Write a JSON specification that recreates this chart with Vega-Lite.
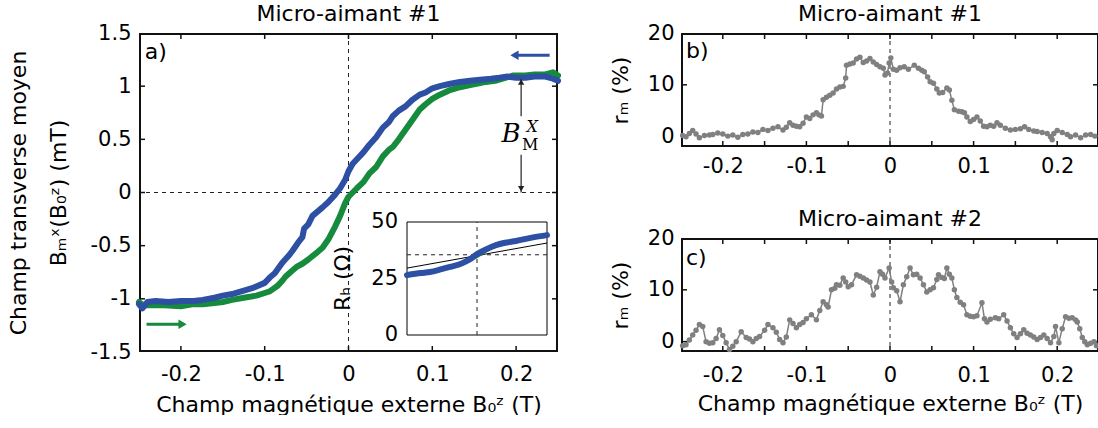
{
  "$schema": "https://vega.github.io/schema/vega-lite/v6.json",
  "background": "white",
  "padding": {"left": 7, "top": 3, "right": 0, "bottom": 0},
  "config": {
    "font": "DejaVu Sans",
    "view": {"stroke": null},
    "tick": {"opacity": 1},
    "axis": {"domain": false, "grid": false, "ticks": false, "labelFont": "DejaVu Sans", "labelFontSize": 21, "titleFont": "DejaVu Sans", "titleFontSize": 22, "titleFontWeight": "normal", "labelColor": "black", "titleColor": "black"},
    "title": {"font": "DejaVu Sans", "fontSize": 22, "fontWeight": "normal", "color": "black", "offset": -4}
  },
  "datasets": {
    "blue": [
      {"b": -0.25, "m": -1.05}, {"b": -0.246, "m": -1.09}, {"b": -0.24, "m": -1.03}, {"b": -0.23, "m": -1.02}, {"b": -0.215, "m": -1.03}, {"b": -0.2, "m": -1.02}, {"b": -0.185, "m": -1.02}, {"b": -0.174, "m": -1.01}, {"b": -0.16, "m": -0.99}, {"b": -0.15, "m": -0.97}, {"b": -0.139, "m": -0.955}, {"b": -0.128, "m": -0.93}, {"b": -0.115, "m": -0.9}, {"b": -0.1, "m": -0.85}, {"b": -0.094, "m": -0.8}, {"b": -0.088, "m": -0.76}, {"b": -0.079, "m": -0.66}, {"b": -0.072, "m": -0.6}, {"b": -0.067, "m": -0.55}, {"b": -0.06, "m": -0.47}, {"b": -0.055, "m": -0.42}, {"b": -0.053, "m": -0.34}, {"b": -0.048, "m": -0.3}, {"b": -0.043, "m": -0.22}, {"b": -0.037, "m": -0.18}, {"b": -0.031, "m": -0.14}, {"b": -0.024, "m": -0.09}, {"b": -0.016, "m": -0.02}, {"b": -0.01, "m": 0.04}, {"b": -0.004, "m": 0.12}, {"b": 0.0, "m": 0.2}, {"b": 0.005, "m": 0.27}, {"b": 0.012, "m": 0.33}, {"b": 0.018, "m": 0.38}, {"b": 0.025, "m": 0.45}, {"b": 0.033, "m": 0.52}, {"b": 0.041, "m": 0.61}, {"b": 0.048, "m": 0.66}, {"b": 0.053, "m": 0.72}, {"b": 0.06, "m": 0.77}, {"b": 0.068, "m": 0.81}, {"b": 0.076, "m": 0.87}, {"b": 0.085, "m": 0.92}, {"b": 0.092, "m": 0.94}, {"b": 0.1, "m": 0.98}, {"b": 0.109, "m": 1.0}, {"b": 0.12, "m": 1.02}, {"b": 0.133, "m": 1.04}, {"b": 0.145, "m": 1.05}, {"b": 0.157, "m": 1.06}, {"b": 0.17, "m": 1.07}, {"b": 0.18, "m": 1.08}, {"b": 0.188, "m": 1.09}, {"b": 0.2, "m": 1.08}, {"b": 0.211, "m": 1.08}, {"b": 0.222, "m": 1.09}, {"b": 0.235, "m": 1.09}, {"b": 0.244, "m": 1.07}, {"b": 0.25, "m": 1.05}
    ],
    "green": [
      {"b": -0.25, "m": -1.03}, {"b": -0.245, "m": -1.06}, {"b": -0.235, "m": -1.06}, {"b": -0.22, "m": -1.06}, {"b": -0.2, "m": -1.07}, {"b": -0.185, "m": -1.05}, {"b": -0.174, "m": -1.05}, {"b": -0.16, "m": -1.04}, {"b": -0.15, "m": -1.03}, {"b": -0.139, "m": -1.01}, {"b": -0.125, "m": -0.99}, {"b": -0.11, "m": -0.97}, {"b": -0.1, "m": -0.945}, {"b": -0.094, "m": -0.93}, {"b": -0.085, "m": -0.88}, {"b": -0.079, "m": -0.83}, {"b": -0.075, "m": -0.79}, {"b": -0.068, "m": -0.74}, {"b": -0.062, "m": -0.7}, {"b": -0.055, "m": -0.67}, {"b": -0.048, "m": -0.63}, {"b": -0.037, "m": -0.56}, {"b": -0.031, "m": -0.52}, {"b": -0.024, "m": -0.44}, {"b": -0.016, "m": -0.32}, {"b": -0.01, "m": -0.22}, {"b": -0.004, "m": -0.1}, {"b": 0.0, "m": -0.04}, {"b": 0.005, "m": 0.0}, {"b": 0.01, "m": 0.04}, {"b": 0.018, "m": 0.1}, {"b": 0.025, "m": 0.18}, {"b": 0.033, "m": 0.24}, {"b": 0.041, "m": 0.34}, {"b": 0.048, "m": 0.4}, {"b": 0.053, "m": 0.43}, {"b": 0.06, "m": 0.5}, {"b": 0.068, "m": 0.59}, {"b": 0.076, "m": 0.68}, {"b": 0.085, "m": 0.78}, {"b": 0.092, "m": 0.83}, {"b": 0.1, "m": 0.88}, {"b": 0.109, "m": 0.92}, {"b": 0.12, "m": 0.96}, {"b": 0.133, "m": 0.99}, {"b": 0.145, "m": 1.01}, {"b": 0.157, "m": 1.03}, {"b": 0.164, "m": 1.04}, {"b": 0.175, "m": 1.05}, {"b": 0.188, "m": 1.08}, {"b": 0.196, "m": 1.1}, {"b": 0.211, "m": 1.1}, {"b": 0.222, "m": 1.11}, {"b": 0.235, "m": 1.11}, {"b": 0.244, "m": 1.13}, {"b": 0.25, "m": 1.1}
    ],
    "insetBlue": [
      {"b": -0.25, "r": 26.5}, {"b": -0.2, "r": 27.4}, {"b": -0.168, "r": 27.9}, {"b": -0.13, "r": 29.0}, {"b": -0.096, "r": 30.1}, {"b": -0.05, "r": 31.9}, {"b": -0.02, "r": 34.0}, {"b": 0.0, "r": 35.8}, {"b": 0.03, "r": 37.8}, {"b": 0.068, "r": 39.8}, {"b": 0.1, "r": 40.8}, {"b": 0.139, "r": 41.6}, {"b": 0.2, "r": 43.2}, {"b": 0.25, "r": 44.2}
    ],
    "insetGreen": [
      {"b": -0.25, "r": 26.3}, {"b": -0.1, "r": 29.6}, {"b": -0.05, "r": 31.3}, {"b": 0.0, "r": 34.4}, {"b": 0.03, "r": 36.8}, {"b": 0.068, "r": 39.3}, {"b": 0.139, "r": 41.4}, {"b": 0.25, "r": 44.0}
    ],
    "insetLine": [
      {"b": -0.25, "r": 29.6}, {"b": 0.25, "r": 40.7}
    ],
    "insetTicks": [
      {"r": 0, "label": "0"}, {"r": 25, "label": "25"}, {"r": 50, "label": "50"}
    ],
    "ticksAx": [{"v": -0.2}, {"v": -0.1}, {"v": 0}, {"v": 0.1}, {"v": 0.2}],
    "ticksAy": [{"v": -1}, {"v": -0.5}, {"v": 0}, {"v": 0.5}, {"v": 1}],
    "ticksRx": [{"v": -0.2}, {"v": -0.15}, {"v": -0.1}, {"v": -0.05}, {"v": 0}, {"v": 0.05}, {"v": 0.1}, {"v": 0.15}, {"v": 0.2}],
    "ticksRy": [{"v": 0}, {"v": 10}],
    "rb": [
      {"b": -0.248, "r": 0.2}, {"b": -0.244, "r": 0.0}, {"b": -0.24, "r": 0.6}, {"b": -0.236, "r": 1.2}, {"b": -0.232, "r": 0.5}, {"b": -0.228, "r": -0.2}, {"b": -0.222, "r": 0.2}, {"b": -0.216, "r": 0.3}, {"b": -0.212, "r": 0.4}, {"b": -0.206, "r": 0.7}, {"b": -0.2, "r": 0.5}, {"b": -0.194, "r": 0.1}, {"b": -0.188, "r": 0.3}, {"b": -0.182, "r": -0.1}, {"b": -0.176, "r": 0.4}, {"b": -0.17, "r": 0.5}, {"b": -0.164, "r": 0.9}, {"b": -0.158, "r": 0.8}, {"b": -0.152, "r": 1.4}, {"b": -0.146, "r": 1.2}, {"b": -0.14, "r": 1.6}, {"b": -0.134, "r": 1.9}, {"b": -0.128, "r": 1.3}, {"b": -0.124, "r": 1.8}, {"b": -0.12, "r": 2.7}, {"b": -0.116, "r": 2.2}, {"b": -0.112, "r": 2.0}, {"b": -0.108, "r": 1.9}, {"b": -0.104, "r": 2.6}, {"b": -0.1, "r": 3.8}, {"b": -0.096, "r": 3.5}, {"b": -0.092, "r": 4.2}, {"b": -0.088, "r": 4.6}, {"b": -0.085, "r": 4.2}, {"b": -0.082, "r": 4.0}, {"b": -0.08, "r": 7.1}, {"b": -0.076, "r": 7.6}, {"b": -0.072, "r": 8.0}, {"b": -0.068, "r": 8.4}, {"b": -0.064, "r": 9.2}, {"b": -0.06, "r": 9.6}, {"b": -0.056, "r": 9.7}, {"b": -0.053, "r": 11.3}, {"b": -0.052, "r": 13.8}, {"b": -0.048, "r": 14.0}, {"b": -0.044, "r": 14.2}, {"b": -0.04, "r": 15.0}, {"b": -0.036, "r": 15.3}, {"b": -0.032, "r": 14.3}, {"b": -0.028, "r": 14.6}, {"b": -0.024, "r": 15.1}, {"b": -0.02, "r": 14.4}, {"b": -0.016, "r": 13.9}, {"b": -0.012, "r": 13.5}, {"b": -0.008, "r": 13.2}, {"b": -0.006, "r": 11.9}, {"b": -0.003, "r": 12.3}, {"b": -0.001, "r": 14.2}, {"b": 0.001, "r": 15.2}, {"b": 0.004, "r": 13.0}, {"b": 0.008, "r": 12.8}, {"b": 0.012, "r": 13.3}, {"b": 0.017, "r": 13.5}, {"b": 0.022, "r": 13.0}, {"b": 0.029, "r": 13.8}, {"b": 0.034, "r": 13.2}, {"b": 0.038, "r": 12.8}, {"b": 0.041, "r": 12.5}, {"b": 0.045, "r": 11.5}, {"b": 0.048, "r": 10.6}, {"b": 0.052, "r": 10.3}, {"b": 0.056, "r": 9.2}, {"b": 0.059, "r": 8.4}, {"b": 0.063, "r": 8.5}, {"b": 0.068, "r": 9.4}, {"b": 0.071, "r": 9.0}, {"b": 0.074, "r": 7.0}, {"b": 0.077, "r": 5.2}, {"b": 0.082, "r": 4.9}, {"b": 0.086, "r": 4.8}, {"b": 0.089, "r": 4.6}, {"b": 0.092, "r": 3.8}, {"b": 0.096, "r": 2.9}, {"b": 0.1, "r": 3.3}, {"b": 0.104, "r": 3.8}, {"b": 0.108, "r": 3.0}, {"b": 0.112, "r": 2.0}, {"b": 0.116, "r": 1.9}, {"b": 0.12, "r": 2.2}, {"b": 0.124, "r": 2.0}, {"b": 0.128, "r": 2.7}, {"b": 0.132, "r": 2.2}, {"b": 0.138, "r": 1.6}, {"b": 0.144, "r": 1.3}, {"b": 0.15, "r": 1.4}, {"b": 0.156, "r": 1.5}, {"b": 0.161, "r": 1.9}, {"b": 0.166, "r": 1.4}, {"b": 0.172, "r": 1.1}, {"b": 0.176, "r": 1.0}, {"b": 0.182, "r": 0.8}, {"b": 0.188, "r": 0.6}, {"b": 0.192, "r": 0.0}, {"b": 0.194, "r": -0.6}, {"b": 0.196, "r": 0.6}, {"b": 0.2, "r": 1.2}, {"b": 0.206, "r": 0.8}, {"b": 0.212, "r": 0.4}, {"b": 0.216, "r": 0.0}, {"b": 0.222, "r": 0.3}, {"b": 0.228, "r": -0.2}, {"b": 0.234, "r": 0.3}, {"b": 0.24, "r": 0.4}, {"b": 0.245, "r": 0.1}
    ],
    "rc": [
      {"b": -0.248, "r": -0.8}, {"b": -0.244, "r": -0.6}, {"b": -0.24, "r": 0.3}, {"b": -0.236, "r": 1.3}, {"b": -0.232, "r": 2.2}, {"b": -0.228, "r": 3.3}, {"b": -0.224, "r": 2.9}, {"b": -0.22, "r": 0.0}, {"b": -0.216, "r": -0.3}, {"b": -0.212, "r": -0.2}, {"b": -0.208, "r": 0.6}, {"b": -0.204, "r": 2.3}, {"b": -0.2, "r": 1.2}, {"b": -0.196, "r": -0.2}, {"b": -0.192, "r": -1.5}, {"b": -0.188, "r": -0.9}, {"b": -0.184, "r": 0.0}, {"b": -0.178, "r": 1.9}, {"b": -0.172, "r": 0.8}, {"b": -0.168, "r": 0.5}, {"b": -0.164, "r": 0.0}, {"b": -0.16, "r": 0.6}, {"b": -0.156, "r": 1.0}, {"b": -0.15, "r": 2.2}, {"b": -0.146, "r": 3.3}, {"b": -0.14, "r": 2.7}, {"b": -0.136, "r": 1.8}, {"b": -0.132, "r": 0.4}, {"b": -0.128, "r": -0.2}, {"b": -0.124, "r": 0.9}, {"b": -0.12, "r": 4.2}, {"b": -0.116, "r": 3.5}, {"b": -0.112, "r": 2.7}, {"b": -0.108, "r": 3.3}, {"b": -0.104, "r": 3.7}, {"b": -0.1, "r": 4.4}, {"b": -0.094, "r": 5.2}, {"b": -0.088, "r": 4.2}, {"b": -0.084, "r": 6.0}, {"b": -0.08, "r": 7.7}, {"b": -0.076, "r": 7.1}, {"b": -0.074, "r": 6.7}, {"b": -0.07, "r": 10.0}, {"b": -0.066, "r": 10.3}, {"b": -0.064, "r": 11.0}, {"b": -0.06, "r": 10.9}, {"b": -0.056, "r": 12.3}, {"b": -0.053, "r": 11.5}, {"b": -0.05, "r": 10.6}, {"b": -0.046, "r": 11.0}, {"b": -0.04, "r": 12.9}, {"b": -0.036, "r": 12.6}, {"b": -0.032, "r": 12.3}, {"b": -0.028, "r": 11.9}, {"b": -0.024, "r": 11.5}, {"b": -0.02, "r": 9.0}, {"b": -0.016, "r": 10.5}, {"b": -0.012, "r": 13.5}, {"b": -0.009, "r": 13.0}, {"b": -0.006, "r": 12.3}, {"b": -0.001, "r": 14.2}, {"b": 0.002, "r": 11.5}, {"b": 0.004, "r": 10.4}, {"b": 0.008, "r": 9.8}, {"b": 0.012, "r": 7.7}, {"b": 0.016, "r": 11.0}, {"b": 0.02, "r": 12.5}, {"b": 0.024, "r": 14.2}, {"b": 0.028, "r": 12.9}, {"b": 0.032, "r": 13.0}, {"b": 0.036, "r": 12.3}, {"b": 0.04, "r": 11.0}, {"b": 0.044, "r": 9.6}, {"b": 0.048, "r": 10.0}, {"b": 0.052, "r": 10.4}, {"b": 0.056, "r": 12.0}, {"b": 0.058, "r": 12.9}, {"b": 0.062, "r": 12.4}, {"b": 0.065, "r": 12.2}, {"b": 0.068, "r": 14.2}, {"b": 0.071, "r": 13.0}, {"b": 0.074, "r": 12.3}, {"b": 0.077, "r": 10.0}, {"b": 0.08, "r": 8.5}, {"b": 0.084, "r": 7.6}, {"b": 0.088, "r": 7.1}, {"b": 0.092, "r": 5.2}, {"b": 0.096, "r": 4.9}, {"b": 0.1, "r": 4.8}, {"b": 0.104, "r": 5.0}, {"b": 0.11, "r": 7.5}, {"b": 0.113, "r": 4.4}, {"b": 0.116, "r": 3.8}, {"b": 0.12, "r": 4.3}, {"b": 0.126, "r": 4.6}, {"b": 0.13, "r": 4.4}, {"b": 0.136, "r": 5.2}, {"b": 0.14, "r": 4.0}, {"b": 0.144, "r": 2.7}, {"b": 0.148, "r": 1.5}, {"b": 0.152, "r": 0.8}, {"b": 0.156, "r": 1.5}, {"b": 0.16, "r": 2.3}, {"b": 0.164, "r": 1.6}, {"b": 0.168, "r": 1.3}, {"b": 0.172, "r": 0.9}, {"b": 0.176, "r": 0.4}, {"b": 0.18, "r": 0.8}, {"b": 0.184, "r": 1.3}, {"b": 0.188, "r": 0.6}, {"b": 0.192, "r": -0.2}, {"b": 0.196, "r": 1.0}, {"b": 0.198, "r": 2.9}, {"b": 0.202, "r": -0.2}, {"b": 0.206, "r": 2.5}, {"b": 0.21, "r": 4.8}, {"b": 0.214, "r": 4.5}, {"b": 0.218, "r": 4.6}, {"b": 0.222, "r": 4.2}, {"b": 0.224, "r": 3.8}, {"b": 0.227, "r": 2.5}, {"b": 0.23, "r": 0.8}, {"b": 0.233, "r": 0.0}, {"b": 0.236, "r": -0.6}, {"b": 0.24, "r": -0.3}, {"b": 0.244, "r": 0.0}, {"b": 0.247, "r": -0.8}
    ],
    "one": [{}]
  },
  "bounds": "flush",
  "spacing": 123,
  "hconcat": [
    {
      "width": 419,
      "height": 319,
      "title": {"text": "Micro-aimant #1"},
      "layer": [
        {
          "layer": [
            {"data": {"name": "one"}, "mark": {"type": "rule", "strokeDash": [4, 4], "color": "#222"}, "encoding": {"x": {"datum": 0, "type": "quantitative", "scale": {"domain": [-0.25, 0.25], "nice": false, "zero": false}, "axis": null}}},
            {"data": {"name": "one"}, "mark": {"type": "rule", "strokeDash": [4, 4], "color": "#222"}, "encoding": {"y": {"datum": 0, "type": "quantitative", "scale": {"domain": [-1.5, 1.5], "nice": false, "zero": false}, "axis": null}}},
            {"data": {"name": "one"}, "mark": {"type": "rule", "color": "#111", "strokeWidth": 2}, "encoding": {"x": {"datum": -0.2488, "type": "quantitative", "axis": null}}},
            {"data": {"name": "one"}, "mark": {"type": "rule", "color": "#111", "strokeWidth": 2}, "encoding": {"x": {"datum": 0.2488, "type": "quantitative", "axis": null}}},
            {"data": {"name": "one"}, "mark": {"type": "rule", "color": "#111", "strokeWidth": 2}, "encoding": {"y": {"datum": -1.4906, "type": "quantitative", "axis": null}}},
            {"data": {"name": "one"}, "mark": {"type": "rule", "color": "#111", "strokeWidth": 2}, "encoding": {"y": {"datum": 1.4906, "type": "quantitative", "axis": null}}},
            {"data": {"name": "ticksAx"}, "mark": {"type": "tick", "orient": "vertical", "size": 6, "thickness": 1.5, "color": "#111"}, "encoding": {"x": {"field": "v", "type": "quantitative", "axis": null}, "y": {"datum": -1.4718, "type": "quantitative", "axis": null}}},
            {"data": {"name": "ticksAx"}, "mark": {"type": "tick", "orient": "vertical", "size": 6, "thickness": 1.5, "color": "#111"}, "encoding": {"x": {"field": "v", "type": "quantitative", "axis": null}, "y": {"datum": 1.4718, "type": "quantitative", "axis": null}}},
            {"data": {"name": "ticksAy"}, "mark": {"type": "tick", "orient": "horizontal", "size": 6, "thickness": 1.5, "color": "#111"}, "encoding": {"y": {"field": "v", "type": "quantitative", "axis": null}, "x": {"datum": -0.2464, "type": "quantitative", "axis": null}}},
            {"data": {"name": "ticksAy"}, "mark": {"type": "tick", "orient": "horizontal", "size": 6, "thickness": 1.5, "color": "#111"}, "encoding": {"y": {"field": "v", "type": "quantitative", "axis": null}, "x": {"datum": 0.2464, "type": "quantitative", "axis": null}}},
            {
              "data": {"name": "green"},
              "mark": {"type": "line", "color": "#168a3d", "strokeWidth": 6, "strokeCap": "round", "strokeJoin": "round"},
              "encoding": {
                "x": {"field": "b", "type": "quantitative", "axis": {"orient": "bottom", "values": [-0.2, -0.1, 0, 0.1, 0.2], "labelExpr": "'' + datum.value", "labelPadding": 11, "title": "Champ magnétique externe B₀ᶻ (T)", "titlePadding": 10}},
                "y": {"field": "m", "type": "quantitative", "axis": {"orient": "left", "values": [-1.5, -1, -0.5, 0, 0.5, 1, 1.5], "labelExpr": "'' + datum.value", "labelPadding": 8, "title": ["Champ transverse moyen", "Bₘˣ(B₀ᶻ) (mT)"], "titleLineHeight": 40, "titlePadding": 20}}
              }
            },
            {
              "data": {"name": "blue"},
              "mark": {"type": "line", "color": "#2d50a4", "strokeWidth": 6, "strokeCap": "round", "strokeJoin": "round"},
              "encoding": {
                "x": {"field": "b", "type": "quantitative", "axis": null},
                "y": {"field": "m", "type": "quantitative", "axis": null}
              }
            },
            {"data": {"name": "one"}, "mark": {"type": "rule", "color": "#333", "strokeWidth": 1.3}, "encoding": {"x": {"datum": 0.206, "type": "quantitative", "axis": null}, "y": {"datum": 0.717, "type": "quantitative", "axis": null}, "y2": {"datum": 1.07}}},
            {"data": {"name": "one"}, "mark": {"type": "rule", "color": "#333", "strokeWidth": 1.3}, "encoding": {"x": {"datum": 0.206, "type": "quantitative", "axis": null}, "y": {"datum": 0.0, "type": "quantitative", "axis": null}, "y2": {"datum": 0.356}}},
            {"data": {"name": "one"}, "mark": {"type": "point", "shape": "triangle-up", "filled": true, "color": "#222", "size": 40, "opacity": 1}, "encoding": {"x": {"datum": 0.206, "type": "quantitative", "axis": null}, "y": {"datum": 1.04, "type": "quantitative", "axis": null}}},
            {"data": {"name": "one"}, "mark": {"type": "point", "shape": "triangle-down", "filled": true, "color": "#222", "size": 40, "opacity": 1}, "encoding": {"x": {"datum": 0.206, "type": "quantitative", "axis": null}, "y": {"datum": 0.035, "type": "quantitative", "axis": null}}},
            {"data": {"name": "one"}, "mark": {"type": "text", "font": "DejaVu Serif", "fontStyle": "italic", "fontSize": 26, "align": "center", "baseline": "middle", "dx": -10}, "encoding": {"x": {"datum": 0.206, "type": "quantitative", "axis": null}, "y": {"datum": 0.546, "type": "quantitative", "axis": null}, "text": {"value": "B"}}},
            {"data": {"name": "one"}, "mark": {"type": "text", "font": "DejaVu Serif", "fontStyle": "italic", "fontSize": 16, "align": "center", "baseline": "middle", "dx": 11, "dy": -7}, "encoding": {"x": {"datum": 0.206, "type": "quantitative", "axis": null}, "y": {"datum": 0.546, "type": "quantitative", "axis": null}, "text": {"value": "X"}}},
            {"data": {"name": "one"}, "mark": {"type": "text", "font": "DejaVu Serif", "fontSize": 16, "align": "center", "baseline": "middle", "dx": 9, "dy": 11}, "encoding": {"x": {"datum": 0.206, "type": "quantitative", "axis": null}, "y": {"datum": 0.546, "type": "quantitative", "axis": null}, "text": {"value": "M"}}},
            {"data": {"name": "one"}, "mark": {"type": "rule", "color": "#2d50a4", "strokeWidth": 3}, "encoding": {"x": {"datum": 0.2, "type": "quantitative", "axis": null}, "x2": {"datum": 0.24}, "y": {"datum": 1.29, "type": "quantitative", "axis": null}}},
            {"data": {"name": "one"}, "mark": {"type": "point", "shape": "triangle-left", "filled": true, "color": "#2d50a4", "size": 90, "opacity": 1}, "encoding": {"x": {"datum": 0.198, "type": "quantitative", "axis": null}, "y": {"datum": 1.29, "type": "quantitative", "axis": null}}},
            {"data": {"name": "one"}, "mark": {"type": "rule", "color": "#168a3d", "strokeWidth": 3}, "encoding": {"x": {"datum": -0.241, "type": "quantitative", "axis": null}, "x2": {"datum": -0.2}, "y": {"datum": -1.24, "type": "quantitative", "axis": null}}},
            {"data": {"name": "one"}, "mark": {"type": "point", "shape": "triangle-right", "filled": true, "color": "#168a3d", "size": 90, "opacity": 1}, "encoding": {"x": {"datum": -0.198, "type": "quantitative", "axis": null}, "y": {"datum": -1.24, "type": "quantitative", "axis": null}}},
            {"data": {"name": "one"}, "mark": {"type": "text", "fontSize": 22, "align": "left", "baseline": "middle"}, "encoding": {"x": {"datum": -0.243, "type": "quantitative", "axis": null}, "y": {"datum": 1.325, "type": "quantitative", "axis": null}, "text": {"value": "a)"}}}
          ],
          "resolve": {"axis": {"x": "independent", "y": "independent"}}
        },
        {
          "layer": [
            {"data": {"name": "one"}, "mark": {"type": "rect", "fill": "white", "stroke": "black", "strokeWidth": 1}, "encoding": {"x": {"datum": -0.25, "type": "quantitative", "scale": {"domain": [-0.25, 0.25], "range": [268, 408], "nice": false, "zero": false}, "axis": null}, "x2": {"datum": 0.25}, "y": {"datum": 0, "type": "quantitative", "scale": {"domain": [0, 50], "range": [302, 189], "nice": false, "zero": false}, "axis": null}, "y2": {"datum": 50}}},
            {"data": {"name": "one"}, "mark": {"type": "rule", "strokeDash": [4, 4], "color": "#222"}, "encoding": {"x": {"datum": 0, "type": "quantitative", "axis": null}, "y": {"datum": 0, "type": "quantitative", "axis": null}, "y2": {"datum": 50}}},
            {"data": {"name": "one"}, "mark": {"type": "rule", "strokeDash": [4, 4], "color": "#222"}, "encoding": {"x": {"datum": -0.25, "type": "quantitative", "axis": null}, "x2": {"datum": 0.25}, "y": {"datum": 35.5, "type": "quantitative", "axis": null}}},
            {"data": {"name": "insetLine"}, "mark": {"type": "line", "color": "black", "strokeWidth": 1}, "encoding": {"x": {"field": "b", "type": "quantitative", "axis": null}, "y": {"field": "r", "type": "quantitative", "axis": null}}},
            {"data": {"name": "insetGreen"}, "mark": {"type": "line", "color": "#168a3d", "strokeWidth": 2, "interpolate": "monotone"}, "encoding": {"x": {"field": "b", "type": "quantitative", "axis": null}, "y": {"field": "r", "type": "quantitative", "axis": null}}},
            {"data": {"name": "insetBlue"}, "mark": {"type": "line", "color": "#2d50a4", "strokeWidth": 6, "strokeCap": "round", "interpolate": "monotone"}, "encoding": {"x": {"field": "b", "type": "quantitative", "axis": null}, "y": {"field": "r", "type": "quantitative", "axis": null}}},
            {"data": {"name": "insetTicks"}, "mark": {"type": "text", "fontSize": 21, "align": "right", "baseline": "middle", "dx": -9, "color": "black"}, "encoding": {"x": {"datum": -0.25, "type": "quantitative", "axis": null}, "y": {"field": "r", "type": "quantitative", "axis": null}, "text": {"field": "label"}}},
            {"data": {"name": "one"}, "mark": {"type": "text", "fontSize": 22, "align": "center", "baseline": "middle", "angle": 270, "dy": -64, "color": "black"}, "encoding": {"x": {"datum": -0.25, "type": "quantitative", "axis": null}, "y": {"datum": 25, "type": "quantitative", "axis": null}, "text": {"value": "Rₕ (Ω)"}}}
          ]
        }
      ],
      "resolve": {"scale": {"x": "independent", "y": "independent"}, "axis": {"x": "independent", "y": "independent"}}
    },
    {
      "bounds": "flush",
      "spacing": 91,
      "vconcat": [
        {
          "width": 418,
          "height": 114,
          "title": {"text": "Micro-aimant #1"},
          "layer": [
            {"data": {"name": "one"}, "mark": {"type": "rule", "strokeDash": [4, 4], "color": "#222"}, "encoding": {"x": {"datum": 0, "type": "quantitative", "scale": {"domain": [-0.25, 0.25], "nice": false, "zero": false}, "axis": null}}},
            {"data": {"name": "one"}, "mark": {"type": "rule", "color": "#111", "strokeWidth": 2}, "encoding": {"x": {"datum": -0.2488, "type": "quantitative", "axis": null}}},
            {"data": {"name": "one"}, "mark": {"type": "rule", "color": "#111", "strokeWidth": 2}, "encoding": {"x": {"datum": 0.2488, "type": "quantitative", "axis": null}}},
            {"data": {"name": "one"}, "mark": {"type": "rule", "color": "#111", "strokeWidth": 2}, "encoding": {"y": {"datum": -1.807, "type": "quantitative", "scale": {"domain": [-2, 20], "nice": false, "zero": false}, "axis": null}}},
            {"data": {"name": "one"}, "mark": {"type": "rule", "color": "#111", "strokeWidth": 2}, "encoding": {"y": {"datum": 19.807, "type": "quantitative", "axis": null}}},
            {"data": {"name": "ticksRx"}, "mark": {"type": "tick", "orient": "vertical", "size": 6, "thickness": 1.5, "color": "#111"}, "encoding": {"x": {"field": "v", "type": "quantitative", "axis": null}, "y": {"datum": -1.421, "type": "quantitative", "axis": null}}},
            {"data": {"name": "ticksRx"}, "mark": {"type": "tick", "orient": "vertical", "size": 6, "thickness": 1.5, "color": "#111"}, "encoding": {"x": {"field": "v", "type": "quantitative", "axis": null}, "y": {"datum": 19.421, "type": "quantitative", "axis": null}}},
            {"data": {"name": "ticksRy"}, "mark": {"type": "tick", "orient": "horizontal", "size": 6, "thickness": 1.5, "color": "#111"}, "encoding": {"y": {"field": "v", "type": "quantitative", "axis": null}, "x": {"datum": -0.2464, "type": "quantitative", "axis": null}}},
            {"data": {"name": "ticksRy"}, "mark": {"type": "tick", "orient": "horizontal", "size": 6, "thickness": 1.5, "color": "#111"}, "encoding": {"y": {"field": "v", "type": "quantitative", "axis": null}, "x": {"datum": 0.2464, "type": "quantitative", "axis": null}}},
            {"data": {"name": "rb"}, "mark": {"type": "line", "color": "#808080", "strokeWidth": 1.5}, "encoding": {"x": {"field": "b", "type": "quantitative", "axis": {"orient": "bottom", "values": [-0.2, -0.1, 0, 0.1, 0.2], "labelExpr": "'' + datum.value", "labelPadding": 8, "title": null}}, "y": {"field": "r", "type": "quantitative", "axis": {"orient": "left", "values": [0, 10, 20], "labelExpr": "'' + datum.value", "labelPadding": 7, "title": "rₘ (%)", "titlePadding": 15}}}},
            {"data": {"name": "rb"}, "mark": {"type": "point", "filled": true, "color": "#808080", "size": 30, "opacity": 1}, "encoding": {"x": {"field": "b", "type": "quantitative", "axis": null}, "y": {"field": "r", "type": "quantitative", "axis": null}}},
            {"data": {"name": "one"}, "mark": {"type": "text", "fontSize": 22, "align": "left", "baseline": "middle"}, "encoding": {"x": {"datum": -0.244, "type": "quantitative", "axis": null}, "y": {"datum": 16.6, "type": "quantitative", "axis": null}, "text": {"value": "b)"}}}
          ],
          "resolve": {"axis": {"x": "independent", "y": "independent"}}
        },
        {
          "width": 418,
          "height": 114,
          "title": {"text": "Micro-aimant #2"},
          "layer": [
            {"data": {"name": "one"}, "mark": {"type": "rule", "strokeDash": [4, 4], "color": "#222"}, "encoding": {"x": {"datum": 0, "type": "quantitative", "scale": {"domain": [-0.25, 0.25], "nice": false, "zero": false}, "axis": null}}},
            {"data": {"name": "one"}, "mark": {"type": "rule", "color": "#111", "strokeWidth": 2}, "encoding": {"x": {"datum": -0.2488, "type": "quantitative", "axis": null}}},
            {"data": {"name": "one"}, "mark": {"type": "rule", "color": "#111", "strokeWidth": 2}, "encoding": {"x": {"datum": 0.2488, "type": "quantitative", "axis": null}}},
            {"data": {"name": "one"}, "mark": {"type": "rule", "color": "#111", "strokeWidth": 2}, "encoding": {"y": {"datum": -1.807, "type": "quantitative", "scale": {"domain": [-2, 20], "nice": false, "zero": false}, "axis": null}}},
            {"data": {"name": "one"}, "mark": {"type": "rule", "color": "#111", "strokeWidth": 2}, "encoding": {"y": {"datum": 19.807, "type": "quantitative", "axis": null}}},
            {"data": {"name": "ticksRx"}, "mark": {"type": "tick", "orient": "vertical", "size": 6, "thickness": 1.5, "color": "#111"}, "encoding": {"x": {"field": "v", "type": "quantitative", "axis": null}, "y": {"datum": -1.421, "type": "quantitative", "axis": null}}},
            {"data": {"name": "ticksRx"}, "mark": {"type": "tick", "orient": "vertical", "size": 6, "thickness": 1.5, "color": "#111"}, "encoding": {"x": {"field": "v", "type": "quantitative", "axis": null}, "y": {"datum": 19.421, "type": "quantitative", "axis": null}}},
            {"data": {"name": "ticksRy"}, "mark": {"type": "tick", "orient": "horizontal", "size": 6, "thickness": 1.5, "color": "#111"}, "encoding": {"y": {"field": "v", "type": "quantitative", "axis": null}, "x": {"datum": -0.2464, "type": "quantitative", "axis": null}}},
            {"data": {"name": "ticksRy"}, "mark": {"type": "tick", "orient": "horizontal", "size": 6, "thickness": 1.5, "color": "#111"}, "encoding": {"y": {"field": "v", "type": "quantitative", "axis": null}, "x": {"datum": 0.2464, "type": "quantitative", "axis": null}}},
            {"data": {"name": "rc"}, "mark": {"type": "line", "color": "#808080", "strokeWidth": 1.5}, "encoding": {"x": {"field": "b", "type": "quantitative", "axis": {"orient": "bottom", "values": [-0.2, -0.1, 0, 0.1, 0.2], "labelExpr": "'' + datum.value", "labelPadding": 12, "title": "Champ magnétique externe B₀ᶻ (T)", "titlePadding": 8}}, "y": {"field": "r", "type": "quantitative", "axis": {"orient": "left", "values": [0, 10, 20], "labelExpr": "'' + datum.value", "labelPadding": 7, "title": "rₘ (%)", "titlePadding": 15}}}},
            {"data": {"name": "rc"}, "mark": {"type": "point", "filled": true, "color": "#808080", "size": 30, "opacity": 1}, "encoding": {"x": {"field": "b", "type": "quantitative", "axis": null}, "y": {"field": "r", "type": "quantitative", "axis": null}}},
            {"data": {"name": "one"}, "mark": {"type": "text", "fontSize": 22, "align": "left", "baseline": "middle"}, "encoding": {"x": {"datum": -0.244, "type": "quantitative", "axis": null}, "y": {"datum": 16.2, "type": "quantitative", "axis": null}, "text": {"value": "c)"}}}
          ],
          "resolve": {"axis": {"x": "independent", "y": "independent"}}
        }
      ]
    }
  ]
}
